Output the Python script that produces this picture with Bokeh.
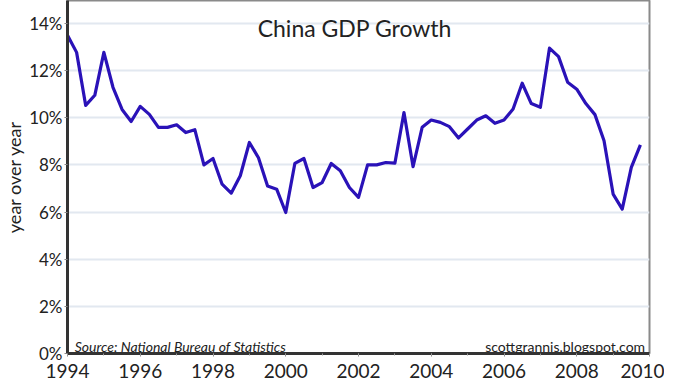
from bokeh.plotting import figure
from bokeh.models import Range1d, FixedTicker, PrintfTickFormatter, Label, ColumnDataSource
from bokeh.embed import file_html
from bokeh.resources import INLINE

# Quarterly China GDP growth (year over year, %), 1994 Q1 .. 2009 Q4 positions
start_year = 1994
gdp_growth = [
    13.5, 12.77, 10.52, 10.95, 12.77, 11.29, 10.35, 9.84,
    10.48, 10.14, 9.59, 9.59, 9.7, 9.37, 9.49, 8.0,
    8.27, 7.18, 6.8, 7.54, 8.95, 8.3, 7.1, 6.97,
    5.98, 8.06, 8.27, 7.04, 7.25, 8.06, 7.75, 7.04,
    6.62, 8.0, 8.0, 8.1, 8.07, 10.22, 7.92, 9.59,
    9.9, 9.8, 9.62, 9.14, 9.52, 9.9, 10.08, 9.76,
    9.9, 10.37, 11.46, 10.6, 10.44, 12.95, 12.59, 11.5,
    11.21, 10.6, 10.13, 9.02, 6.76, 6.12, 7.89, 8.85,
]
quarter_dates = [start_year + i * 0.25 for i in range(len(gdp_growth))]

x_major_ticks = [1994, 1996, 1998, 2000, 2002, 2004, 2006, 2008, 2010]
x_minor_ticks = list(range(1994, 2011))
y_ticks = [0, 2, 4, 6, 8, 10, 12, 14]

title_text = "China GDP Growth"
y_label = "year over year"
source_text = "Source: National Bureau of Statistics"
credit_text = "scottgrannis.blogspot.com"

FONT = "Lato"
INK = "#222222"

p = figure(width=664, height=386, output_backend="svg", toolbar_location=None,
           x_range=Range1d(1994, 2010), y_range=Range1d(0, 14.97),
           min_border_left=58, min_border_right=15, min_border_top=0, min_border_bottom=33)

src = ColumnDataSource(dict(x=quarter_dates, y=gdp_growth))
p.line("x", "y", source=src, line_color="#2a12b8", line_width=3.2, line_join="round")

p.outline_line_color="#8a8a8a"
p.outline_line_width=2
p.background_fill_color="white"
p.border_fill_color="white"

p.xgrid.grid_line_color=None
p.ygrid.grid_line_color="#e2e8f0"
p.ygrid.grid_line_width=2

xa = p.xaxis[0]
xa.ticker = FixedTicker(ticks=x_major_ticks, minor_ticks=x_minor_ticks)
xa.axis_line_color="#333333"
xa.axis_line_width=3
xa.major_tick_in=0
xa.major_tick_out=3
xa.minor_tick_in=0
xa.minor_tick_out=2
xa.major_tick_line_color="#888888"
xa.minor_tick_line_color="#999999"
xa.major_label_text_font=FONT
xa.major_label_text_font_size="19px"
xa.major_label_text_color=INK
xa.major_label_standoff=7

ya = p.yaxis[0]
ya.ticker = FixedTicker(ticks=y_ticks)
ya.formatter = PrintfTickFormatter(format="%d%%")
ya.axis_line_color="#333333"
ya.axis_line_width=3
ya.major_tick_in=0
ya.major_tick_out=3
ya.minor_tick_line_color=None
ya.major_tick_line_color="#888888"
ya.major_label_text_font=FONT
ya.major_label_text_font_size="17px"
ya.major_label_text_color=INK
ya.major_label_standoff=2
ya.axis_label=y_label
ya.axis_label_text_font=FONT
ya.axis_label_text_font_style="normal"
ya.axis_label_text_font_size="18px"
ya.axis_label_text_color=INK
ya.axis_label_standoff=1

p.add_layout(Label(x=2001.9, y=13.8, text=title_text, text_align="center", text_baseline="middle",
                   text_font=FONT, text_font_size="23px", text_color=INK))
p.add_layout(Label(x=1994.2, y=0.3, text=source_text, text_align="left", text_baseline="alphabetic",
                   text_font=FONT, text_font_style="italic", text_font_size="14px", text_color=INK))
p.add_layout(Label(x=2009.88, y=0.3, text=credit_text, text_align="right", text_baseline="alphabetic",
                   text_font=FONT, text_font_size="14px", text_color=INK))

open("out.html", "w").write(file_html(p, INLINE))
